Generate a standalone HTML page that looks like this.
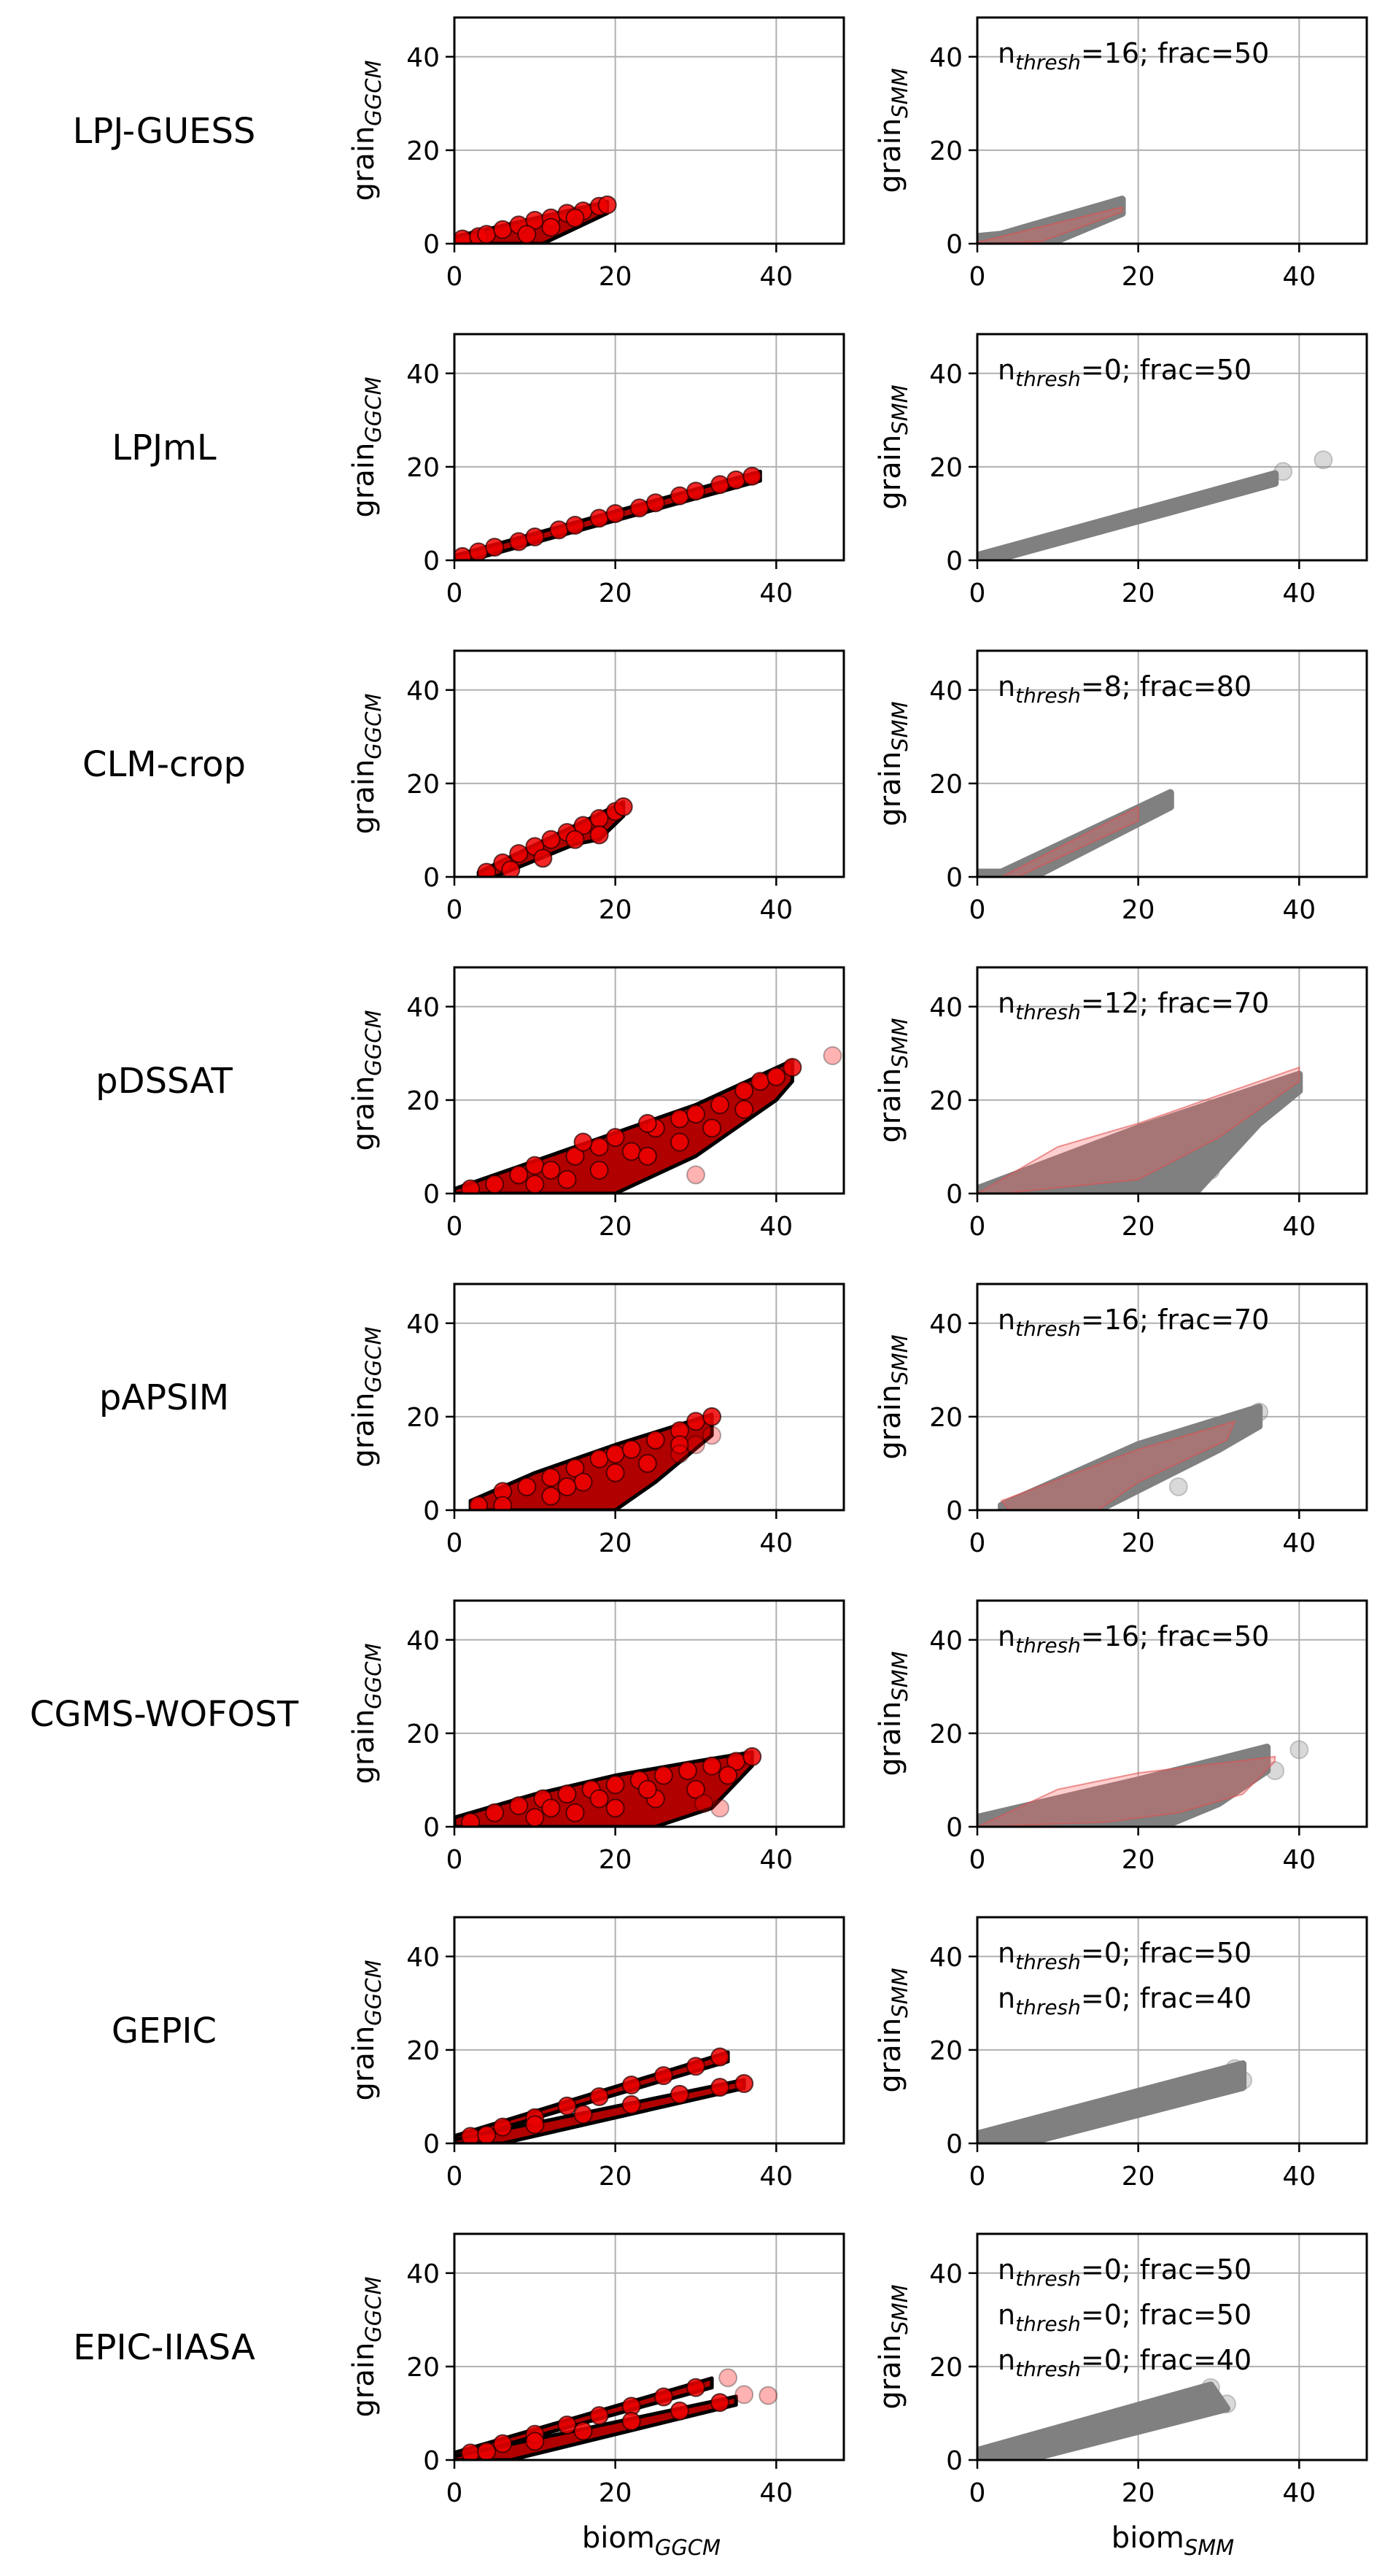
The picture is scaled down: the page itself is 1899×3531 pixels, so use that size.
<!DOCTYPE html>
<html><head><meta charset="utf-8"><style>
html,body{margin:0;padding:0;background:#fff;}
svg{display:block;font-family:"DejaVu Sans","Liberation Sans",sans-serif;}
</style></head><body>
<svg id="fig" width="1899" height="3531" viewBox="0 0 1899 3531" xmlns="http://www.w3.org/2000/svg"></svg>
<script>
// ---------- data ----------
const models = ["LPJ-GUESS","LPJmL","CLM-crop","pDSSAT","pAPSIM","CGMS-WOFOST","GEPIC","EPIC-IIASA"];
const axisTicks = [0,20,40];
const axisMax = 48.4;
const annotations = [
  [["16","50"]],[["0","50"]],[["8","80"]],[["12","70"]],[["16","70"]],[["16","50"]],
  [["0","50"],["0","40"]],[["0","50"],["0","50"],["0","40"]]
];
// GGCM dense clouds (polygons of [biom, grain])
const ggcmBands = [
  [[[0,1.5],[19,9],[19,6.5],[11,0],[0,0]]],
  [[[0,1],[38,19],[38,17],[2,0],[0,0]]],
  [[[3,1],[21,16],[21,13],[18,8],[15,7],[5,0],[3,0]]],
  [[[0,1],[10,7],[20,13],[30,19],[42,28.5],[42,24],[40,20],[30,8],[20,0],[0,0]]],
  [[[2,2],[10,8],[20,14],[32,20.5],[32,16],[25,6],[20,0],[2,0]]],
  [[[0,2],[10,7],[20,11],[30,14],[37,16],[37,13],[32,4],[25,0],[5,0],[0,0]]],
  [[[0,1.6],[34,19.5],[34,17.5],[0,0.3]],[[0,0.8],[36,13.6],[36,11.8],[6,0],[0,0]]],
  [[[0,1.6],[32,17.5],[32,15.5],[0,0.3]],[[0,0.8],[35,13.6],[35,11.8],[7,0],[0,0]]]
];
const ggcmPoints = [
  [[1,1],[3,1.5],[4,2],[6,3],[8,4],[10,5],[12,5.5],[14,6.5],[16,7],[18,8],[19,8.3],[9,2],[12,3.5],[15,5.5]],
  [[1,0.8],[3,1.8],[5,2.8],[8,4],[10,5],[13,6.5],[15,7.5],[18,9],[20,10],[23,11.2],[25,12.3],[28,13.8],[30,14.8],[33,16.2],[35,17.2],[37,18]],
  [[4,1],[6,3],[8,5],[10,6.5],[12,8],[14,9.5],[16,11],[18,12.5],[20,14],[21,15],[18,9],[7,1.5],[11,4],[15,8]],
  [[2,1],[5,2],[8,4],[10,6],[12,5],[15,8],[18,10],[20,12],[22,9],[25,14],[28,16],[30,17],[33,19],[36,22],[38,24],[40,25],[42,27],[14,3],[18,5],[24,8],[28,11],[32,14],[36,18],[10,2],[16,11],[24,15]],
  [[3,1],[6,4],[9,5],[12,7],[15,9],[18,11],[20,12],[22,13],[25,15],[28,17],[30,19],[32,20],[12,3],[16,6],[20,8],[24,10],[28,14],[6,1],[14,5]],
  [[2,1],[5,3],[8,4.5],[11,6],[14,7],[17,8],[20,9],[23,10],[26,11],[29,12],[32,13],[35,14],[37,15],[10,2],[15,3],[20,4],[25,6],[30,8],[34,11],[18,6],[24,8],[12,4]],
  [[2,1.5],[6,3.5],[10,5.5],[14,8],[18,10],[22,12.5],[26,14.5],[30,16.5],[33,18.5],[4,1.8],[10,4],[16,6.2],[22,8.3],[28,10.5],[33,12],[36,12.8]],
  [[2,1.5],[6,3.5],[10,5.5],[14,7.5],[18,9.5],[22,11.5],[26,13.5],[30,15.5],[4,1.8],[10,4],[16,6.2],[22,8.3],[28,10.5],[33,12.3]]
];
const ggcmOutliers = [[],[],[],[[47,29.5],[30,4]],[[32,16],[30,14],[28,12]],[[33,4],[31,5]],[],[[34,17.6],[39,13.8],[36,14]]];
// SMM gray clouds
const smmUpper = [
  [[0,1.5],[3,2],[18,9.5]],[[0,1],[37,18.5]],[[0,1],[3,1],[24,18]],[[0,1],[20,14],[40,25.5]],
  [[3,1],[20,14],[35,22]],[[0,2],[10,6],[20,10],[36,17]],[[0,2],[33,17]],[[0,2],[29,16]]
];
const smmLower = [
  [[18,6.5],[9,0],[0,0]],[[37,16.5],[2,0],[0,0]],[[24,15],[7,0],[0,0]],[[40,22],[35,15],[27,0],[0,0]],
  [[35,18],[30,13],[15,0],[3,0]],[[36,12],[30,5],[23,0],[0,0]],[[33,12],[6,0],[0,0]],[[31,11],[6,0],[0,0]]
];
const smmOutliers = [[],[[38,19],[43,21.5]],[],[[50,22],[29,5],[26,9],[24,3]],[[25,5],[35,21]],[[40,16.5],[37,12]],[[33,13.5],[32,16]],[[31,12],[29,15.5]]];
// SMM fitted (red translucent) envelopes
const fitUpper = [
  [[0,0.3],[18,7.8]],[],[[3,0],[20,15]],[[0,0],[10,10],[20,15],[40,27]],
  [[3,2],[20,13],[32,19]],[[0,0],[10,8],[20,11.5],[37,15]],[],[]
];
const fitLower = [
  [[18,6.8],[12,3],[8,0.5],[0,0]],[],[[20,12],[5,0]],[[40,24],[30,12],[20,3],[3,0]],
  [[31,15],[20,6],[15,0],[4,0]],[[37,14],[33,7],[25,3],[16,1],[0,0]],[],[]
];

// ---------- layout ----------
const NS="http://www.w3.org/2000/svg";
const svg=document.getElementById('fig');
const panelX=[623,1340], panelW=534, panelH=310, top0=24, rowPitch=434;
function mk(tag,attrs,parent){const e=document.createElementNS(NS,tag);for(const k in attrs)e.setAttribute(k,attrs[k]);(parent||svg).appendChild(e);return e;}
function sx(x0,v){return x0+v/axisMax*panelW;}
function sy(t,v){return t+panelH-v/axisMax*panelH;}
function poly(pts,x0,t){return pts.map(p=>sx(x0,p[0]).toFixed(1)+','+sy(t,p[1]).toFixed(1)).join(' ');}

models.forEach((m,i)=>{
  const t=top0+i*rowPitch;
  const lab=mk('text',{x:225,y:t+155+17,'text-anchor':'middle','font-size':48});
  lab.textContent=m;
  
  
  [0,1].forEach(j=>{
    const x0=panelX[j];
    const g=mk('g',{});
    
    
    const cp=mk('clipPath',{id:'c'+i+'_'+j},g);
    mk('rect',{x:x0,y:t,width:panelW,height:panelH},cp);
    axisTicks.forEach(v=>{
      if(v>0){
        const gl=mk('line',{x1:sx(x0,v),x2:sx(x0,v),y1:t,y2:t+panelH,stroke:'#b0b0b0','stroke-width':2},g);
        
        
        const gh=mk('line',{x1:x0,x2:x0+panelW,y1:sy(t,v),y2:sy(t,v),stroke:'#b0b0b0','stroke-width':2},g);
        
        
      }
    });
    const d=mk('g',{'clip-path':'url(#c'+i+'_'+j+')'},g);
    if(j===0){
      ggcmBands[i].forEach(b=>{
        const p=mk('polygon',{points:poly(b,x0,t),fill:'#b00000',stroke:'#000','stroke-width':5,'stroke-linejoin':'round'},d);
        
        
      });
      ggcmPoints[i].forEach(pt=>{
        const c=mk('circle',{cx:sx(x0,pt[0]),cy:sy(t,pt[1]),r:12,fill:'#f00000','fill-opacity':0.85,stroke:'#200','stroke-opacity':0.7,'stroke-width':2},d);
        
        
      });
      ggcmOutliers[i].forEach(pt=>{
        const c=mk('circle',{cx:sx(x0,pt[0]),cy:sy(t,pt[1]),r:12,fill:'#ff0000','fill-opacity':0.3,stroke:'#000','stroke-opacity':0.3,'stroke-width':2},d);
        
        
      });
    } else {
      const p=mk('polygon',{points:poly(smmUpper[i].concat(smmLower[i]),x0,t),fill:'#808080',stroke:'#808080','stroke-width':10,'stroke-linejoin':'round'},d);
      
      
      smmOutliers[i].forEach(pt=>{
        const c=mk('circle',{cx:sx(x0,pt[0]),cy:sy(t,pt[1]),r:12,fill:'#808080','fill-opacity':0.3,stroke:'#808080','stroke-opacity':0.4,'stroke-width':2},d);
        
        
      });
      if(fitUpper[i].length){
        const f=mk('polygon',{points:poly(fitUpper[i].concat(fitLower[i]),x0,t),fill:'#ff6060','fill-opacity':0.3,stroke:'#e05050','stroke-opacity':0.6,'stroke-width':2},d);
        
        
      }
    }
    const fr=mk('rect',{x:x0,y:t,width:panelW,height:panelH,fill:'none',stroke:'#000','stroke-width':3},g);
    
    
    axisTicks.forEach(v=>{
      mk('line',{x1:x0-12,x2:x0,y1:sy(t,v),y2:sy(t,v),stroke:'#000','stroke-width':2.5},g);
      const yl=mk('text',{x:x0-20,y:sy(t,v)+13,'text-anchor':'end','font-size':36},g);
      yl.textContent=v;
      
      
      mk('line',{x1:sx(x0,v),x2:sx(x0,v),y1:t+panelH,y2:t+panelH+12,stroke:'#000','stroke-width':2.5},g);
      const xl=mk('text',{x:sx(x0,v),y:t+panelH+57,'text-anchor':'middle','font-size':36},g);
      xl.textContent=v;
      
      
    });
    const yt=mk('text',{transform:'translate('+(j?1234:512)+','+(t+155)+') rotate(-90)','text-anchor':'middle','font-size':40},g);
    yt.innerHTML='grain<tspan font-size="29" font-style="italic" dy="10">'+(j?'SMM':'GGCM')+'</tspan>';
    
    
    if(j===1){
      annotations[i].forEach((a,k)=>{
        const at=mk('text',{x:1368,y:t+62+k*62,'font-size':38},g);
        at.innerHTML='n<tspan font-size="28" font-style="italic" dy="9">thresh</tspan><tspan dy="-9">='+a[0]+'; frac='+a[1]+'</tspan>';
        
        
      });
    }
    if(i===models.length-1){
      const xt=mk('text',{x:j?1608:893,y:t+panelH+120,'text-anchor':'middle','font-size':40},g);
      xt.innerHTML='biom<tspan font-size="29" font-style="italic" dy="10">'+(j?'SMM':'GGCM')+'</tspan>';
      
      
    }
  });
});
</script>
</body></html>
